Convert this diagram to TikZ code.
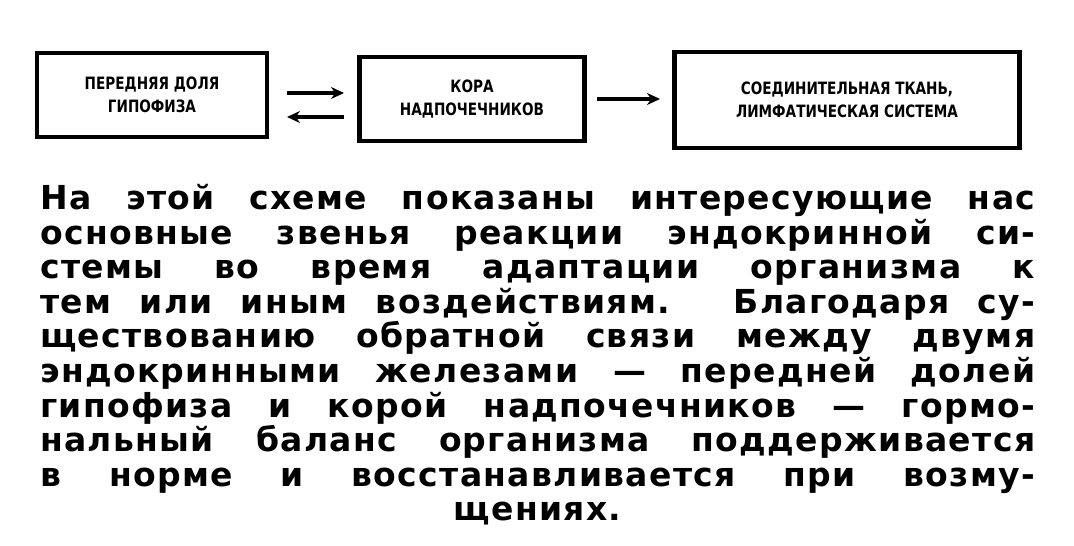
\documentclass[tikz,border=0pt]{standalone}
\usepackage{fontspec}
\setmainfont{DejaVu Sans}
\usetikzlibrary{arrows.meta}
\begin{document}
\begin{tikzpicture}[x=1pt,y=1pt,
  blk/.style={draw,line width=4.5pt,minimum height=84pt,align=center,font=\bfseries\fontsize{17}{23}\selectfont,inner sep=0pt},
  arr/.style={line width=3.5pt,-{Stealth[length=13pt,width=12pt]}}]
\useasboundingbox (0,0) rectangle (1074,-546);
\node[blk,minimum width=230pt] (a) at (152,-95) {\scalebox{0.8}[1]{ПЕРЕДНЯЯ ДОЛЯ}\\\scalebox{0.8}[1]{ГИПОФИЗА}};
\node[blk,minimum width=225pt] (b) at (472,-99) {\scalebox{0.8}[1]{КОРА}\\\scalebox{0.8}[1]{НАДПОЧЕЧНИКОВ}};
\node[blk,minimum width=345pt,minimum height=96pt] (c) at (847,-100) {\scalebox{0.8}[1]{СОЕДИНИТЕЛЬНАЯ ТКАНЬ,}\\\scalebox{0.8}[1]{ЛИМФАТИЧЕСКАЯ СИСТЕМА}};
\coordinate (p1) at (287,-93); \coordinate (p2) at (344,-93);
\coordinate (q1) at (344,-117); \coordinate (q2) at (287,-117);
\coordinate (r1) at (597,-99); \coordinate (r2) at (660,-99);
\draw[arr] (p1) -- (p2);
\draw[arr] (q1) -- (q2);
\draw[arr] (r1) -- (r2);
\node[anchor=north west,inner sep=0pt] (t) at (40,-184) {\parbox{995pt}{\fontsize{33}{34.6}\selectfont\bfseries\addfontfeature{LetterSpace=4}\parfillskip=0pt
На этой схеме показаны интересующие нас\linebreak
основные звенья реакции эндокринной си-\linebreak
стемы во время адаптации организма к\linebreak
тем или иным воздействиям. Благодаря су-\linebreak
ществованию обратной связи между двумя\linebreak
эндокринными железами — передней долей\linebreak
гипофиза и корой надпочечников — гормо-\linebreak
нальный баланс организма поддерживается\linebreak
в норме и восстанавливается при возму-\par
\centering щениях.\par}};
\end{tikzpicture}
\end{document}
